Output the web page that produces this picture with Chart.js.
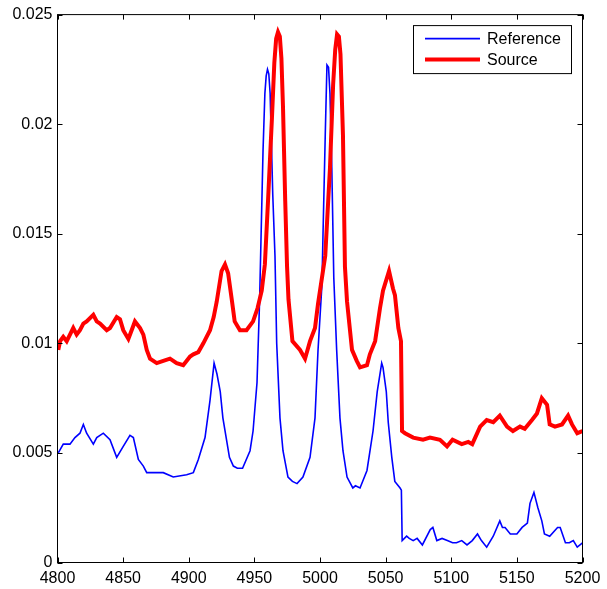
<!DOCTYPE html>
<html>
<head>
<meta charset="utf-8">
<script src="https://cdn.jsdelivr.net/npm/chart.js@4"></script>
<style>
  html, body { margin: 0; padding: 0; background: #fff; }
  canvas { display: block; }
</style>
</head>
<body>
<canvas id="spectrum" width="607" height="589"></canvas>
<script>
// series data (x = wavelength, y = value)
const refX = [4800.6, 4804.4, 4809.5, 4813.3, 4817.1, 4819.7, 4822.2, 4827.3, 4829.9, 4834.9,
  4840, 4845.1, 4850.1, 4855.2, 4857.8, 4861.6, 4865.4, 4868, 4873, 4880.6,
  4888.2, 4898.4, 4903.5, 4907.3, 4912.4, 4916.2, 4919.3, 4921.5, 4924, 4926,
  4931, 4934, 4937, 4941, 4946.7, 4949, 4952, 4954, 4956.6, 4958,
  4959, 4960, 4961, 4962, 4964, 4965.7, 4967, 4969.5, 4971.8, 4975.6, 4979, 4982.5,
  4987, 4992.4, 4996.2, 4998.5, 5001.5, 5002.3, 5004, 5005.3, 5006.5, 5007.6, 5009,
  5010.5, 5012.7, 5015.2, 5017.5, 5020.6, 5025, 5027, 5030.5, 5035.8, 5040.4,
  5043.6, 5047, 5048, 5050.5, 5052, 5054.7, 5057, 5061, 5062, 5062.6,
  5066, 5068, 5071, 5074, 5078, 5084, 5086, 5089, 5093, 5097,
  5101, 5104, 5108, 5112, 5116, 5120, 5123, 5127, 5132, 5137,
  5139, 5141, 5145, 5150, 5154, 5158, 5160, 5163, 5166, 5169,
  5171, 5175, 5181, 5183, 5187, 5190, 5193, 5196, 5200];
const refY = [0.0050, 0.0054, 0.0054, 0.0057, 0.0059, 0.0063, 0.0059, 0.0054, 0.0057, 0.0059,
  0.0056, 0.0048, 0.0053, 0.0058, 0.0057, 0.0047, 0.0044, 0.0041, 0.0041, 0.0041,
  0.0039, 0.0040, 0.0041, 0.0047, 0.0057, 0.0074, 0.0091, 0.0086, 0.0078, 0.0066,
  0.0048, 0.0044, 0.0043, 0.0043, 0.0051, 0.0060, 0.0082, 0.0120, 0.0188, 0.0214,
  0.0222, 0.0225, 0.0223, 0.0214, 0.0168, 0.0140, 0.0100, 0.0066, 0.0051, 0.0039, 0.0037, 0.0036,
  0.0039, 0.0048, 0.0066, 0.0097, 0.0127, 0.0150, 0.0195, 0.0227, 0.0226, 0.0214, 0.0180,
  0.0130, 0.0097, 0.0066, 0.0051, 0.0039, 0.0034, 0.0035, 0.0034, 0.0042, 0.0060,
  0.0078, 0.0091, 0.0089, 0.0078, 0.0064, 0.0048, 0.0037, 0.0034, 0.0033, 0.0010,
  0.0012, 0.0011, 0.0010, 0.0011, 0.0008, 0.0015, 0.0016, 0.0010, 0.0011, 0.0010,
  0.0009, 0.0009, 0.0010, 0.0008, 0.0010, 0.0013, 0.0010, 0.0007, 0.0012, 0.0019,
  0.0016, 0.0016, 0.0013, 0.0013, 0.0016, 0.0018, 0.0027, 0.0032, 0.0025, 0.0019,
  0.0013, 0.0012, 0.0016, 0.0016, 0.0009, 0.0009, 0.0010, 0.0007, 0.0009];

const srcX = [4800.6, 4802, 4804.4, 4807, 4809.5, 4812, 4814.6, 4817.1, 4819.7, 4822.2,
  4827.3, 4829.9, 4832.4, 4837.5, 4840, 4845.1, 4847.6, 4850.1, 4854, 4856.5,
  4859, 4862.9, 4865.4, 4868, 4870.5, 4875.6, 4880.6, 4885.7, 4890.8, 4895.8,
  4901, 4903.5, 4907.3, 4911.1, 4916.2, 4919, 4921.3, 4925, 4927.6, 4930,
  4933, 4935, 4939, 4944, 4949, 4952.4, 4955.6, 4958, 4960.4, 4963.4,
  4965.2, 4966.6, 4968, 4969.4, 4970.6, 4971.8, 4973.5, 4974.9, 4976, 4979, 4984.8, 4988.6, 4992.4,
  4996.2, 4998.5, 5001.5, 5004, 5007.6, 5010, 5011.6, 5013, 5014.4, 5015.6, 5017.5, 5019,
  5020.6, 5024.4, 5028, 5030.5, 5035.8, 5038, 5042, 5045.7, 5048, 5052.6,
  5055.6, 5057.1, 5059.7, 5061.7, 5062.5, 5064.8, 5071, 5078.5, 5083.8, 5091.4,
  5096.8, 5101, 5108, 5113, 5116, 5122, 5127, 5132, 5137, 5142.5,
  5147, 5152.4, 5156, 5161.5, 5165.3, 5169, 5173, 5175, 5179, 5184.4,
  5189, 5192, 5196, 5200];
const srcY = [0.0097, 0.0101, 0.0103, 0.0101, 0.0104, 0.0107, 0.0104, 0.0106, 0.0109, 0.0110,
  0.0113, 0.0110, 0.0109, 0.0106, 0.0107, 0.0112, 0.0111, 0.0106, 0.0102, 0.0106,
  0.0110, 0.0107, 0.0104, 0.0097, 0.0093, 0.0091, 0.0092, 0.0093, 0.0091, 0.0090,
  0.0094, 0.0095, 0.0096, 0.0100, 0.0106, 0.0112, 0.0119, 0.0133, 0.0136, 0.0132,
  0.0119, 0.0110, 0.0106, 0.0106, 0.0110, 0.0116, 0.0124, 0.0136, 0.0165, 0.0203,
  0.0228, 0.0239, 0.0242, 0.0240, 0.0230, 0.0208, 0.0165, 0.0135, 0.0120, 0.0101, 0.0097, 0.0093, 0.0101,
  0.0107, 0.0118, 0.0130, 0.0140, 0.0180, 0.0218, 0.0234, 0.0241, 0.0240, 0.0232, 0.0195, 0.0135,
  0.0119, 0.0097, 0.0092, 0.0089, 0.0090, 0.0095, 0.0101, 0.0116, 0.0124, 0.0133,
  0.0125, 0.0122, 0.0107, 0.0101, 0.0060, 0.0059, 0.0057, 0.0056, 0.0057, 0.0056,
  0.0053, 0.0056, 0.0054, 0.0055, 0.0054, 0.0062, 0.0065, 0.0064, 0.0067, 0.0062,
  0.0060, 0.0062, 0.0061, 0.0065, 0.0068, 0.0075, 0.0072, 0.0063, 0.0062, 0.0063,
  0.0067, 0.0063, 0.0059, 0.0060];

const seriesNames = ['Reference', 'Source'];
const xTicks = [4800, 4850, 4900, 4950, 5000, 5050, 5100, 5150, 5200];
const yTicks = [0, 0.005, 0.01, 0.015, 0.02, 0.025];

const toPoints = (xs, ys) => xs.map((x, i) => ({ x: x, y: ys[i] }));

Chart.defaults.font.family = '"Liberation Sans", Arial, sans-serif';
Chart.defaults.font.size = 16;
Chart.defaults.color = '#000';

// box round the plot with inward ticks, MATLAB style, plus the boxed legend
const framePlugin = {
  id: 'frame',
  afterDraw(chart) {
    const ctx = chart.ctx;
    const a = chart.chartArea;
    const xs = chart.scales.x;
    const ys = chart.scales.y;
    const tl = 5;
    ctx.save();
    ctx.strokeStyle = '#000';
    ctx.lineWidth = 1;
    ctx.beginPath();
    xTicks.forEach(v => {
      const px = Math.round(xs.getPixelForValue(v)) + 0.5;
      ctx.moveTo(px, a.bottom); ctx.lineTo(px, a.bottom - tl);
      ctx.moveTo(px, a.top); ctx.lineTo(px, a.top + tl);
    });
    yTicks.forEach(v => {
      const py = Math.round(ys.getPixelForValue(v)) + 0.5;
      ctx.moveTo(a.left, py); ctx.lineTo(a.left + tl, py);
      ctx.moveTo(a.right, py); ctx.lineTo(a.right - tl, py);
    });
    ctx.stroke();
    ctx.strokeRect(a.left, a.top, a.right - a.left, a.bottom - a.top);

    // legend
    const bw = 158, bh = 48;
    const bx = a.right - 11 - bw, by = a.top + 11;
    ctx.fillStyle = '#fff';
    ctx.fillRect(bx, by, bw, bh);
    ctx.strokeRect(bx, by, bw, bh);
    ctx.font = '16px "Liberation Sans", Arial, sans-serif';
    ctx.textBaseline = 'middle';
    chart.data.datasets.forEach((ds, i) => {
      const ly = by + 13 + i * 21;
      ctx.strokeStyle = ds.borderColor;
      ctx.lineWidth = ds.borderWidth;
      ctx.beginPath();
      ctx.moveTo(bx + 11.5, ly);
      ctx.lineTo(bx + 66.5, ly);
      ctx.stroke();
      ctx.fillStyle = '#000';
      ctx.fillText(ds.label, bx + 73.5, ly + 1);
    });
    ctx.restore();
  }
};

const spectrumChart = new Chart(document.getElementById('spectrum'), {
  type: 'line',
  data: {
    datasets: [{
      label: seriesNames[0],
      data: toPoints(refX, refY),
      borderColor: '#0000ff',
      borderWidth: 1.6,
      pointRadius: 0,
      tension: 0,
      order: 2
    }, {
      label: seriesNames[1],
      data: toPoints(srcX, srcY),
      borderColor: '#ff0000',
      borderWidth: 4,
      pointRadius: 0,
      tension: 0,
      order: 1
    }]
  },
  options: {
    responsive: false,
    animation: false,
    layout: { padding: { left: 0, top: 12.5, right: 24.5, bottom: 0 } },
    plugins: {
      legend: { display: false },
      tooltip: { enabled: false }
    },
    scales: {
      x: {
        type: 'linear',
        min: 4800,
        max: 5200,
        afterBuildTicks: s => { s.ticks = xTicks.map(v => ({ value: v })); },
        afterFit: s => { s.height = 26.5; },
        grid: { display: false, drawTicks: false },
        border: { display: false },
        ticks: { padding: 6, maxRotation: 0, autoSkip: false, callback: v => String(v) }
      },
      y: {
        type: 'linear',
        min: 0,
        max: 0.025,
        afterBuildTicks: s => { s.ticks = yTicks.map(v => ({ value: v })); },
        afterFit: s => { s.width = 57.5; },
        grid: { display: false, drawTicks: false },
        border: { display: false },
        ticks: { padding: 5, autoSkip: false, callback: v => String(v) }
      }
    }
  },
  plugins: [framePlugin]
});
</script>
</body>
</html>
